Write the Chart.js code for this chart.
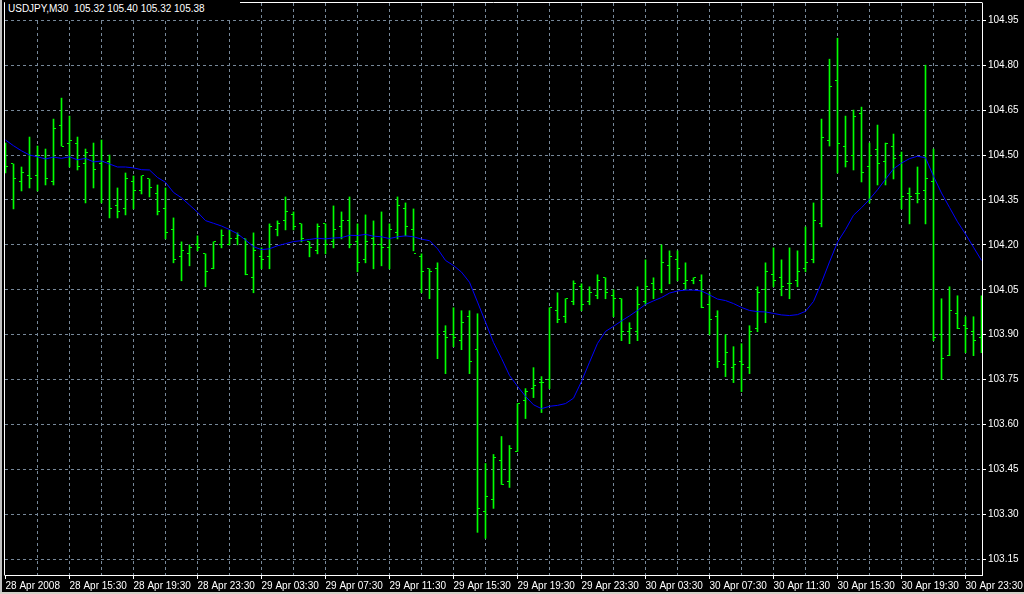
<!DOCTYPE html>
<html>
<head>
<meta charset="utf-8">
<title>USDJPY,M30</title>
<script src="https://cdn.jsdelivr.net/npm/chart.js@4/dist/chart.umd.min.js"></script>
<style>
  html, body { margin: 0; padding: 0; background: #000; }
  #wrap { position: relative; width: 1024px; height: 594px; overflow: hidden; }
  #chartTitle {
    position: absolute; left: 5px; top: 2px; width: 235px; height: 16px;
    padding: 1px 0 0 3px; box-sizing: border-box; background: #000;
    font: 10px "Liberation Sans", Arial, sans-serif;
    color: #fff; white-space: pre;
  }
</style>
</head>
<body>
<div id="wrap">
  <canvas id="fxcanvas" width="1024" height="594"></canvas>
  <div id="chartTitle">USDJPY,M30  105.32 105.40 105.32 105.38</div>
</div>
<script>
// 30 minute bars, 28 Apr 2008 11:30 .. 30 Apr 23:30 (123 bars)
var timeLabels = ["28 Apr 2008", "28 Apr 15:30", "28 Apr 19:30", "28 Apr 23:30",
    "29 Apr 03:30", "29 Apr 07:30", "29 Apr 11:30", "29 Apr 15:30", "29 Apr 19:30",
    "29 Apr 23:30", "30 Apr 03:30", "30 Apr 07:30", "30 Apr 11:30", "30 Apr 15:30",
    "30 Apr 19:30", "30 Apr 23:30"];

var priceTicks = [103.15, 103.30, 103.45, 103.60, 103.75, 103.90, 104.05,
    104.20, 104.35, 104.50, 104.65, 104.80, 104.95];

var opens = [
    104.51,104.47,104.41,104.43,104.43,104.49,104.41,104.60,104.54,104.54,
    104.47,104.50,104.47,104.48,104.33,104.32,104.41,104.38,104.42,104.37,
    104.32,104.25,104.16,104.17,104.20,104.17,104.12,104.20,104.20,104.22,
    104.22,104.09,104.16,104.16,104.25,104.28,104.30,104.27,104.21,104.18,
    104.27,104.21,104.26,104.28,104.21,104.15,104.22,104.20,104.19,104.24,
    104.32,104.25,104.16,104.12,104.12,103.91,103.90,103.88,103.96,103.85,
    103.31,103.35,103.48,103.41,103.51,103.68,103.72,103.74,103.75,103.98,
    103.96,104.01,104.06,104.01,104.03,104.09,104.03,104.02,103.91,103.91,
    104.01,104.07,104.05,104.13,104.15,104.07,104.08,104.08,104.00,103.96,
    103.80,103.79,103.81,103.79,103.92,104.05,104.10,104.09,104.07,104.08,
    104.12,104.15,104.27,104.55,104.75,104.53,104.50,104.64,104.46,104.52,
    104.48,104.53,104.50,104.37,104.37,104.38,104.41,103.90,103.83,103.97,
    103.93,103.91,103.89];
var highs = [
    104.54,104.47,104.46,104.56,104.53,104.52,104.62,104.69,104.63,104.56,
    104.52,104.54,104.55,104.50,104.39,104.44,104.43,104.43,104.42,104.40,
    104.39,104.29,104.21,104.20,104.23,104.17,104.21,104.25,104.25,104.24,
    104.22,104.24,104.19,104.27,104.28,104.36,104.31,104.27,104.21,104.27,
    104.27,104.33,104.31,104.36,104.27,104.30,104.28,104.31,104.27,104.36,
    104.34,104.32,104.17,104.12,104.14,103.93,103.99,103.98,103.98,103.97,
    103.47,103.50,103.56,103.53,103.67,103.72,103.79,103.76,103.99,104.04,
    104.02,104.08,104.07,104.06,104.10,104.09,104.05,104.02,103.94,104.06,
    104.15,104.09,104.20,104.18,104.18,104.14,104.09,104.10,104.04,103.98,
    103.90,103.86,103.87,103.93,104.06,104.14,104.19,104.15,104.19,104.18,
    104.26,104.34,104.62,104.82,104.89,104.63,104.65,104.66,104.54,104.60,
    104.54,104.57,104.51,104.39,104.46,104.80,104.52,104.02,104.06,104.03,
    103.96,103.96,104.03];
var lows = [
    104.44,104.32,104.38,104.39,104.38,104.40,104.40,104.53,104.46,104.45,
    104.34,104.39,104.34,104.29,104.29,104.30,104.32,104.37,104.36,104.30,
    104.22,104.14,104.08,104.13,104.18,104.06,104.12,104.19,104.20,104.20,
    104.10,104.04,104.12,104.12,104.23,104.25,104.25,104.21,104.16,104.17,
    104.17,104.19,104.22,104.19,104.11,104.14,104.12,104.13,104.12,104.22,
    104.23,104.18,104.04,104.02,103.82,103.77,103.86,103.85,103.77,103.24,
    103.22,103.32,103.40,103.39,103.51,103.62,103.69,103.64,103.72,103.94,
    103.94,104.00,103.98,104.00,104.02,104.02,103.96,103.88,103.87,103.88,
    104.00,104.02,104.04,104.07,104.08,104.05,104.07,103.99,103.90,103.79,
    103.76,103.74,103.71,103.77,103.91,103.94,104.06,104.03,104.02,104.06,
    104.11,104.14,104.26,104.53,104.44,104.46,104.45,104.41,104.34,104.40,
    104.40,104.42,104.32,104.27,104.34,104.27,103.88,103.75,103.83,103.92,
    103.84,103.83,103.84];
var closes = [
    104.46,104.42,104.44,104.42,104.50,104.42,104.59,104.53,104.55,104.46,
    104.51,104.45,104.48,104.32,104.31,104.42,104.38,104.43,104.39,104.31,
    104.24,104.15,104.18,104.19,104.19,104.11,104.21,104.23,104.22,104.23,
    104.10,104.18,104.15,104.26,104.27,104.31,104.26,104.22,104.19,104.26,
    104.20,104.25,104.28,104.20,104.14,104.21,104.20,104.19,104.25,104.33,
    104.26,104.17,104.11,104.11,103.90,103.89,103.89,103.94,103.81,103.32,
    103.36,103.49,103.40,103.52,103.67,103.71,103.73,103.74,103.99,103.95,
    104.02,104.07,104.00,104.04,104.08,104.04,104.02,103.91,103.92,104.00,
    104.06,104.05,104.14,104.16,104.12,104.08,104.09,103.99,103.95,103.81,
    103.84,103.80,103.80,103.91,104.04,104.11,104.08,104.06,104.07,104.11,
    104.14,104.28,104.56,104.73,104.54,104.48,104.63,104.44,104.50,104.47,
    104.54,104.49,104.36,104.36,104.37,104.42,103.89,103.82,103.98,103.92,
    103.92,103.88,103.89];
// moving average line
var maValues = [
    104.550,104.531,104.514,104.500,104.494,104.487,104.493,104.489,104.494,104.484,
    104.489,104.477,104.480,104.470,104.460,104.460,104.457,104.451,104.450,104.425,
    104.409,104.375,104.357,104.333,104.309,104.281,104.272,104.263,104.251,104.237,
    104.216,104.194,104.184,104.187,104.197,104.204,104.211,104.214,104.218,104.222,
    104.220,104.223,104.224,104.232,104.231,104.235,104.229,104.227,104.221,104.227,
    104.230,104.227,104.219,104.214,104.187,104.148,104.131,104.109,104.075,104.009,
    103.942,103.874,103.821,103.764,103.728,103.694,103.666,103.653,103.661,103.664,
    103.670,103.688,103.744,103.808,103.871,103.911,103.928,103.946,103.963,103.981,
    104.001,104.013,104.024,104.039,104.046,104.049,104.049,104.046,104.033,104.019,
    104.014,104.004,103.991,103.981,103.977,103.976,103.971,103.966,103.964,103.967,
    103.978,104.011,104.074,104.143,104.209,104.251,104.299,104.324,104.352,104.384,
    104.419,104.454,104.473,104.488,104.496,104.491,104.429,104.373,104.325,104.277,
    104.236,104.192,104.148];

var barColor = "#00ff00";
var gridColor = "#778899";
var axisFont = { family: "Liberation Sans", size: 10 };

// little 5x1 sprites: open tick sits left of the bar, close tick right
function makeTick(side) {
    var c = document.createElement("canvas");
    c.width = 5;
    c.height = 1;
    var g = c.getContext("2d");
    g.fillStyle = barColor;
    g.fillRect(side === "left" ? 0 : 3, 0, 2, 1);
    return c;
}

var xGrid = [];
for (var k = 0; k <= 120; k += 4) xGrid.push(k);

var framePlugin = {
    id: "mtFrame",
    beforeDraw: function(chart) {
        var ctx = chart.ctx;
        ctx.save();
        ctx.fillStyle = "#000";
        ctx.fillRect(0, 0, chart.width, chart.height);
        ctx.fillStyle = "#c0c0c0";
        ctx.fillRect(0, 0, 2, chart.height);
        ctx.fillStyle = "#d4d0c8";
        ctx.fillRect(0, chart.height - 2, chart.width, 2);
        ctx.restore();
    },
    beforeDatasetsDraw: function(chart) {
        chart.ctx.imageSmoothingEnabled = false;
    },
    afterDraw: function(chart) {
        var ctx = chart.ctx, a = chart.chartArea;
        ctx.save();
        ctx.strokeStyle = "#fff";
        ctx.lineWidth = 1;
        ctx.beginPath();
        ctx.moveTo(a.left - 0.5, a.bottom + 0.5);
        ctx.lineTo(a.left - 0.5, a.top - 0.5);
        ctx.lineTo(a.right + 0.5, a.top - 0.5);
        ctx.stroke();
        ctx.restore();
    }
};

var ctx = document.getElementById("fxcanvas").getContext("2d");
var chart = new Chart(ctx, {
    data: {
        datasets: [{
            type: "line",
            label: "MA",
            data: maValues.map(function(v, i) { return { x: i, y: v }; }),
            borderColor: "#0000ff",
            borderWidth: 1,
            pointRadius: 0,
            tension: 0
        }, {
            type: "line",
            label: "Open",
            data: opens.map(function(v, i) { return { x: i, y: v }; }),
            showLine: false,
            pointStyle: makeTick("left"),
            pointRadius: 2,
            pointHoverRadius: 2
        }, {
            type: "line",
            label: "Close",
            data: closes.map(function(v, i) { return { x: i, y: v }; }),
            showLine: false,
            pointStyle: makeTick("right"),
            pointRadius: 2,
            pointHoverRadius: 2
        }, {
            type: "bar",
            label: "High-Low",
            data: lows.map(function(v, i) { return { x: i, y: [v, highs[i]] }; }),
            backgroundColor: barColor,
            borderWidth: 0,
            barThickness: 1,
            grouped: false
        }]
    },
    options: {
        responsive: false,
        animation: false,
        events: [],
        layout: { padding: { left: 5, top: 2, right: 0, bottom: 0 } },
        plugins: {
            legend: { display: false },
            tooltip: { enabled: false }
        },
        scales: {
            x: {
                type: "linear",
                offset: false,
                min: -0.0625,
                max: 122.0625,
                afterBuildTicks: function(scale) {
                    scale.ticks = xGrid.map(function(v) { return { value: v }; });
                },
                afterFit: function(scale) {
                    scale.height = 19;
                    scale.paddingLeft = 0;
                    scale.paddingRight = 0;
                },
                ticks: {
                    autoSkip: false,
                    maxRotation: 0,
                    align: "start",
                    color: "#fff",
                    font: axisFont,
                    padding: 1,
                    callback: function(v) { return v % 8 === 0 ? timeLabels[v / 8] : ""; }
                },
                grid: {
                    offset: false,
                    color: function(c) {
                        return (c.tick && c.tick.value === 0) ? "rgba(0,0,0,0)" : gridColor;
                    },
                    tickColor: function(c) {
                        return (c.tick && c.tick.value % 8 === 0) ? "#fff" : "rgba(0,0,0,0)";
                    },
                    tickLength: 4,
                    tickBorderDash: []
                },
                border: { color: "#fff", dash: [3, 3] }
            },
            y: {
                type: "linear",
                position: "right",
                min: 103.0976,
                max: 105.0076,
                afterBuildTicks: function(scale) {
                    scale.ticks = priceTicks.map(function(v) { return { value: v }; });
                },
                afterFit: function(scale) {
                    scale.width = 42;
                    scale.paddingTop = 0;
                    scale.paddingBottom = 0;
                },
                ticks: {
                    color: "#fff",
                    font: axisFont,
                    padding: 2,
                    callback: function(v) { return v.toFixed(2); }
                },
                grid: {
                    color: gridColor,
                    tickColor: "#fff",
                    tickLength: 4,
                    tickBorderDash: []
                },
                border: { color: "#fff", dash: [3, 3] }
            }
        }
    },
    plugins: [framePlugin]
});
</script>
</body>
</html>
